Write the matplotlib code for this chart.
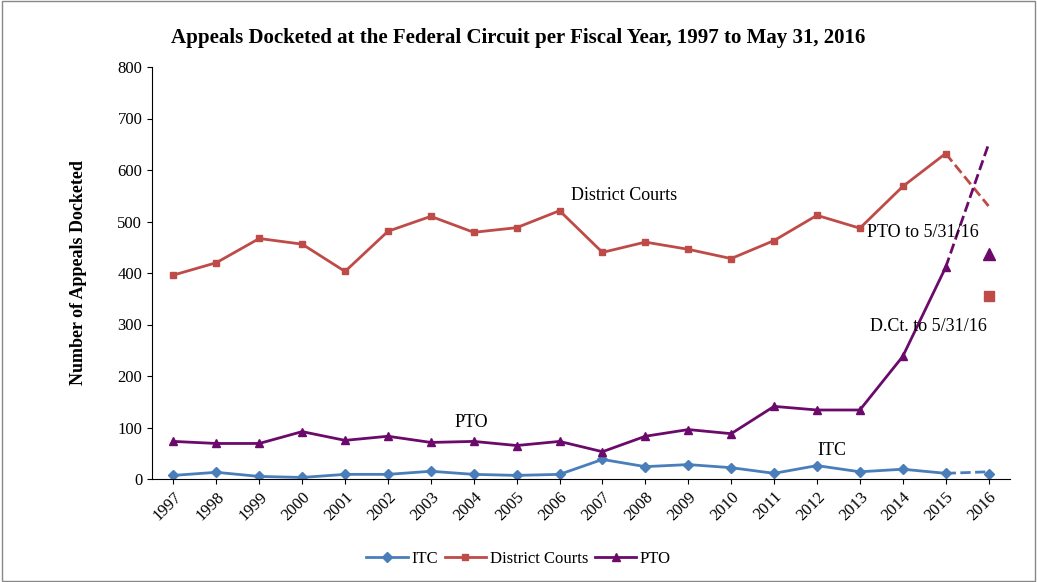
import numpy as np
import matplotlib.pyplot as plt

years = [str(y) for y in range(1997, 2017)]
district = [396, 420, 467, 456, 403, 481, 510, 479, 488, 521, 440, 460, 446, 428, 463, 512, 487, 568, 632]
pto = [73, 69, 69, 92, 75, 83, 71, 73, 65, 73, 53, 83, 96, 88, 141, 134, 134, 238, 411]
itc = [7, 13, 5, 3, 9, 9, 15, 9, 7, 9, 38, 24, 28, 22, 11, 26, 14, 19, 11]
proj_2016 = {"itc": 14, "district": 530, "pto": 650}
actual_2016 = {"itc": 10, "district": 355, "pto": 436}

C_ITC = "#4a7ebb"
C_DC = "#be4b48"
C_PTO = "#6b0a6b"

plt.rcParams["font.family"] = ["Liberation Serif", "DejaVu Serif"]
fig = plt.figure(figsize=(10.37, 5.82), dpi=100)
ax = fig.add_axes([152 / 1037, 1 - 479 / 582, 858 / 1037, 412 / 582])

x = np.arange(len(district))
ax.plot(x, itc, color=C_ITC, marker="D", ms=5, lw=2, label="ITC")
ax.plot(x, district, color=C_DC, marker="s", ms=5, lw=2, label="District Courts")
ax.plot(x, pto, color=C_PTO, marker="^", ms=6, lw=2, label="PTO")

# dashed projections for 2016
ax.plot([18, 19], [itc[-1], proj_2016["itc"]], color=C_ITC, lw=2, ls="--")
ax.plot([18, 19], [district[-1], proj_2016["district"]], color=C_DC, lw=2, ls="--")
ax.plot([18, 19], [pto[-1], proj_2016["pto"]], color=C_PTO, lw=2, ls="--")
ax.plot(19, actual_2016["itc"], color=C_ITC, marker="D", ms=5)
ax.plot(19, actual_2016["district"], color=C_DC, marker="s", ms=7, ls="none")
ax.plot(19, actual_2016["pto"], color=C_PTO, marker="^", ms=8, ls="none")

ax.set_xlim(-0.5, 19.5)
ax.set_ylim(0, 800)
ax.set_yticks(range(0, 801, 100))
ax.set_xticks(np.arange(len(years)))
ax.set_xticklabels(years, rotation=45, ha="right", rotation_mode="anchor", fontsize=12)
ax.tick_params(axis="y", labelsize=12)
ax.spines["top"].set_visible(False)
ax.spines["right"].set_visible(False)
ax.set_ylabel("Number of Appeals Docketed", fontsize=13, fontweight="bold", labelpad=22)

ax.text(9.27, 551, "District Courts", fontsize=13, va="center")
ax.text(6.94, 109, "PTO", fontsize=13, va="center", ha="center")
ax.text(15.35, 56, "ITC", fontsize=13, va="center", ha="center")
ax.text(16.17, 478, "PTO to 5/31/16", fontsize=13, va="center")
ax.text(16.24, 297, "D.Ct. to 5/31/16", fontsize=13, va="center")

fig.suptitle("Appeals Docketed at the Federal Circuit per Fiscal Year, 1997 to May 31, 2016",
             y=1 - 28 / 582, fontsize=15, fontweight="bold")
fig.legend(loc="lower center", ncol=3, frameon=False, fontsize=12,
           bbox_to_anchor=(0.5, 0.0), handlelength=2.5, handletextpad=0.2,
           columnspacing=0.4)

fig.patches.append(plt.Rectangle((0.002, 0.002), 0.996, 0.996, transform=fig.transFigure,
                                 fill=False, edgecolor="#888888", lw=1))
fig.savefig("out.png", dpi=100)
